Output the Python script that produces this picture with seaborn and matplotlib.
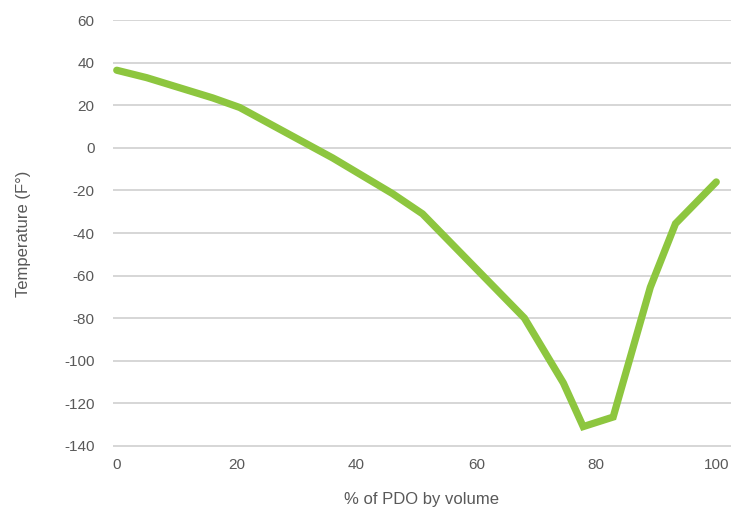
import pandas as pd
import numpy as np
import seaborn as sns
import matplotlib.pyplot as plt

# dati
pdo_pct = [0, 5, 16, 20.5, 36, 46, 51, 68, 74.5, 77.8, 82.8, 89, 93.2, 100]
temp_f = [36.5, 33, 23.5, 19, -4.7, -21.5, -31, -80, -110.5, -131, -126.5, -65.5, -35.6, -16]
x_ticks = [0, 20, 40, 60, 80, 100]
y_ticks = [-140, -120, -100, -80, -60, -40, -20, 0, 20, 40, 60]

df = pd.DataFrame({'pdo': pdo_pct, 'temp': temp_f})

sns.set_style("white")
plt.rcParams['font.family'] = ['Liberation Sans', 'DejaVu Sans']
plt.rcParams['axes.unicode_minus'] = False

fig = plt.figure(figsize=(7.32, 5.08), dpi=100)
ax = fig.add_axes([0.154, 0.120, 0.845, 0.841])

sns.lineplot(data=df, x='pdo', y='temp', ax=ax, sort=False,
             color='#8DC63F', linewidth=5.2, solid_joinstyle='miter')

ax.set_xlim(-0.67, 102.5)
ax.set_ylim(-140.6, 60.2)
ax.set_xticks(x_ticks)
ax.set_yticks(y_ticks)
ax.yaxis.grid(True, color='#D0D0D0', linewidth=1.2)
ax.set_axisbelow(True)
for s in ax.spines.values():
    s.set_visible(False)
ax.tick_params(axis='both', length=0, labelsize=11, labelcolor='#595959')
ax.tick_params(axis='y', pad=13)
ax.tick_params(axis='x', pad=8)

ax.set_xlabel('% of PDO by volume', fontsize=12, color='#595959', labelpad=14)
ax.set_ylabel('Temperature (F°)', fontsize=12, color='#595959', labelpad=24)

plt.savefig('out.png', dpi=100)
